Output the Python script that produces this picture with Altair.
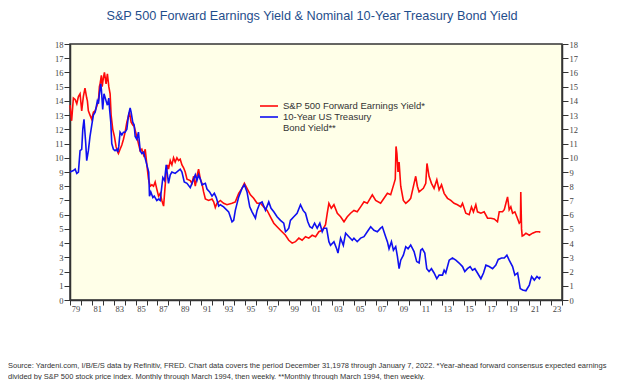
import altair as alt
import pandas as pd

# S&P 500 forward earnings yield (red)
red_year = [1979.00, 1979.15, 1979.31, 1979.47, 1979.62, 1979.77, 1979.92, 1980.07, 1980.22, 1980.37,
            1980.53, 1980.59, 1980.68, 1980.83, 1980.99, 1981.14, 1981.30, 1981.44, 1981.60, 1981.69,
            1981.75, 1981.87, 1981.94, 1982.05, 1982.15, 1982.30, 1982.42, 1982.55, 1982.67, 1982.76,
            1982.91, 1983.06, 1983.21, 1983.37, 1983.43, 1983.58, 1983.74, 1983.89, 1984.04, 1984.20,
            1984.44, 1984.59, 1984.74, 1984.87, 1985.11, 1985.26, 1985.42, 1985.57, 1985.73, 1985.88,
            1986.03, 1986.18, 1986.33, 1986.49, 1986.64, 1986.79, 1986.94, 1987.10, 1987.25, 1987.40,
            1987.56, 1987.65, 1987.80, 1987.92, 1988.01, 1988.17, 1988.32, 1988.47, 1988.62, 1988.78,
            1988.93, 1989.08, 1989.24, 1989.39, 1989.54, 1989.70, 1990.00, 1990.15, 1990.31, 1990.46,
            1990.61, 1990.76, 1990.92, 1991.07, 1991.22, 1991.38, 1991.68, 1991.99, 1992.14, 1992.29,
            1992.44, 1992.75, 1993.05, 1993.36, 1993.82, 1994.12, 1994.43, 1994.73, 1994.95, 1995.19,
            1995.50, 1995.80, 1996.11, 1996.42, 1996.72, 1997.03, 1997.33, 1997.64, 1997.94, 1998.25,
            1998.71, 1999.01, 1999.32, 1999.62, 1999.93, 2000.23, 2000.54, 2000.84, 2001.15, 2001.46,
            2001.76, 2002.07, 2002.37, 2002.53, 2002.68, 2002.90, 2003.14, 2003.45, 2003.75, 2004.06,
            2004.36, 2004.66, 2004.97, 2005.27, 2005.58, 2005.89, 2006.19, 2006.65, 2006.96, 2007.41,
            2007.72, 2008.03, 2008.33, 2008.64, 2008.75, 2008.82, 2008.90, 2009.00, 2009.10, 2009.25,
            2009.49, 2009.71, 2010.01, 2010.16, 2010.47, 2010.62, 2010.77, 2010.93, 2011.32, 2011.54,
            2011.65, 2011.84, 2012.06, 2012.30, 2012.55, 2012.76, 2012.98, 2013.22, 2013.53, 2013.83,
            2014.13, 2014.44, 2014.74, 2014.90, 2015.20, 2015.51, 2015.72, 2015.90, 2016.12, 2016.27,
            2016.58, 2016.88, 2017.19, 2017.49, 2017.80, 2018.10, 2018.26, 2018.56, 2018.72, 2018.87,
            2019.02, 2019.17, 2019.32, 2019.48, 2019.69, 2019.87, 2020.09, 2020.20, 2020.23, 2020.30,
            2020.36, 2020.49, 2020.70, 2021.01, 2021.31, 2021.62, 2021.92, 2022.02]
red_val = [13.7, 12.6, 14.2, 14.1, 13.8, 14.3, 14.5, 13.3, 14.3, 14.9,
           14.2, 14.0, 13.3, 13.0, 12.7, 13.2, 13.3, 13.6, 14.0, 15.0,
           15.2, 15.8, 15.0, 15.6, 16.0, 15.2, 15.9, 15.0, 14.5, 13.0,
           12.0, 11.5, 10.8, 10.4, 10.3, 10.6, 10.9, 11.3, 11.8, 12.5,
           13.2, 12.5, 12.3, 12.2, 11.5, 11.0, 10.5, 10.6, 10.2, 10.6,
           9.5, 8.5, 8.0, 8.1, 8.0, 8.3, 7.8, 7.3, 7.5, 7.0,
           6.6, 7.5, 9.0, 9.5, 9.2, 9.8, 9.5, 10.0, 9.7, 10.0,
           9.8, 9.9, 9.5, 9.3, 9.0, 8.5, 8.4, 8.2, 8.7, 8.0,
           8.7, 9.2, 8.5, 8.2, 7.6, 7.1, 7.0, 7.1, 6.9, 6.5,
           6.8, 7.0, 6.8, 6.7, 6.8, 6.9, 7.5, 7.85, 8.2, 7.85,
           7.4, 7.15, 6.8, 6.8, 6.55, 6.3, 5.85, 5.4, 5.15, 4.9,
           4.55, 4.2, 4.0, 4.1, 4.35, 4.2, 4.45, 4.35, 4.55, 4.45,
           4.8, 4.9, 5.3, 6.1, 6.8, 6.45, 6.7, 6.1, 5.85, 5.5,
           5.85, 6.1, 6.3, 6.2, 6.55, 6.9, 6.8, 7.4, 7.0, 6.8,
           7.15, 7.5, 7.4, 8.2, 8.5, 10.8, 10.3, 9.0, 9.7, 8.0,
           7.0, 6.8, 7.0, 7.15, 8.2, 8.7, 8.0, 7.6, 7.85, 8.2,
           9.6, 8.7, 8.2, 7.85, 8.45, 7.75, 8.1, 7.5, 7.15, 7.0,
           6.8, 6.7, 6.55, 6.8, 6.1, 6.0, 6.55, 6.2, 6.7, 6.2,
           6.1, 6.2, 5.75, 5.75, 5.7, 5.5, 6.2, 6.2, 6.35, 6.8,
           7.25, 6.35, 6.55, 6.1, 6.2, 5.85, 5.4, 5.5, 7.6, 5.0,
           4.5, 4.55, 4.7, 4.55, 4.7, 4.8, 4.8, 4.75]

# 10-year US Treasury bond yield (blue)
blue_year = [1979.00, 1979.31, 1979.47, 1979.62, 1979.77, 1979.92, 1980.07, 1980.17, 1980.28, 1980.44,
             1980.53, 1980.68, 1980.83, 1980.99, 1981.14, 1981.30, 1981.38, 1981.50, 1981.60, 1981.69,
             1981.81, 1981.87, 1981.99, 1982.11, 1982.30, 1982.42, 1982.55, 1982.61, 1982.73, 1982.82,
             1982.97, 1983.12, 1983.28, 1983.37, 1983.46, 1983.58, 1983.74, 1983.89, 1984.04, 1984.20,
             1984.35, 1984.50, 1984.59, 1984.74, 1984.87, 1984.96, 1985.11, 1985.26, 1985.42, 1985.57,
             1985.73, 1986.03, 1986.20, 1986.27, 1986.39, 1986.58, 1986.70, 1986.94, 1987.10, 1987.25,
             1987.40, 1987.49, 1987.65, 1987.80, 1988.01, 1988.17, 1988.32, 1988.62, 1989.08, 1989.24,
             1989.45, 1989.70, 1990.00, 1990.31, 1990.46, 1990.61, 1990.76, 1990.92, 1991.07, 1991.38,
             1991.53, 1991.77, 1991.99, 1992.20, 1992.38, 1992.60, 1992.75, 1993.05, 1993.51, 1993.82,
             1993.97, 1994.12, 1994.43, 1994.73, 1994.95, 1995.19, 1995.44, 1995.65, 1995.96, 1996.11,
             1996.36, 1996.57, 1996.88, 1997.18, 1997.39, 1997.64, 1997.94, 1998.25, 1998.55, 1998.71,
             1998.86, 1999.01, 1999.16, 1999.47, 1999.77, 2000.08, 2000.32, 2000.54, 2000.75, 2000.94,
             2001.15, 2001.37, 2001.61, 2001.85, 2002.07, 2002.22, 2002.47, 2002.68, 2002.83, 2003.14,
             2003.39, 2003.51, 2003.75, 2004.00, 2004.21, 2004.51, 2004.82, 2004.97, 2005.27, 2005.58,
             2005.89, 2006.19, 2006.50, 2006.80, 2007.11, 2007.41, 2007.57, 2007.87, 2008.03, 2008.18,
             2008.40, 2008.58, 2008.79, 2008.95, 2009.10, 2009.25, 2009.49, 2009.71, 2009.92, 2010.16,
             2010.47, 2010.71, 2010.93, 2011.08, 2011.23, 2011.45, 2011.63, 2011.84, 2012.06, 2012.30,
             2012.55, 2012.76, 2013.07, 2013.22, 2013.37, 2013.68, 2013.98, 2014.29, 2014.59, 2014.90,
             2015.11, 2015.35, 2015.60, 2015.81, 2016.03, 2016.27, 2016.58, 2016.82, 2017.04, 2017.34,
             2017.65, 2017.95, 2018.17, 2018.47, 2018.72, 2018.96, 2019.17, 2019.48, 2019.69, 2019.94,
             2020.18, 2020.40, 2020.70, 2021.01, 2021.22, 2021.47, 2021.71, 2021.92, 2022.02]
blue_val = [9.0, 9.1, 9.2, 8.9, 9.0, 10.5, 10.6, 12.0, 12.7, 11.0,
            9.8, 10.5, 11.5, 12.3, 13.0, 13.2, 13.5, 14.0, 13.8, 14.5,
            15.2, 14.8, 13.4, 14.5, 14.0, 13.7, 14.2, 13.5, 12.5, 11.0,
            10.6, 10.5, 10.6, 10.4, 10.8, 11.8, 11.6, 11.8, 11.8, 12.0,
            13.0, 13.5, 13.2, 12.5, 12.3, 11.5, 11.3, 11.8, 10.5, 10.3,
            10.4, 9.5, 9.0, 7.3, 7.6, 7.2, 7.3, 7.0, 7.1, 7.0,
            8.0, 8.6, 8.4, 9.5, 8.2, 8.8, 9.0, 8.9, 9.2, 9.0,
            8.3, 8.2, 7.9, 8.5, 8.8, 8.4, 8.8, 8.5, 8.1, 8.2,
            7.8, 7.6, 7.3, 7.5, 7.2, 6.6, 6.7, 6.55, 6.2, 5.5,
            5.6, 6.3, 7.25, 7.85, 8.1, 7.6, 6.55, 6.2, 5.75, 6.3,
            6.8, 6.9, 6.3, 6.9, 6.45, 6.2, 5.85, 5.6, 5.4, 4.8,
            4.9, 5.05, 5.6, 5.85, 6.1, 6.7, 6.3, 6.1, 5.5, 5.15,
            5.05, 5.4, 5.05, 5.4, 4.8, 5.05, 5.05, 4.1, 3.85, 4.1,
            3.6, 3.3, 4.35, 3.85, 4.7, 4.45, 4.2, 4.35, 4.1, 4.35,
            4.45, 4.8, 5.15, 4.9, 4.8, 5.05, 5.15, 4.45, 4.1, 3.6,
            4.1, 3.5, 3.75, 3.05, 2.2, 2.8, 3.15, 3.75, 3.6, 3.87,
            3.4, 2.7, 2.6, 3.5, 3.6, 3.3, 2.2, 2.0, 2.2, 1.9,
            1.5, 1.75, 1.75, 2.1, 1.9, 2.8, 2.95, 2.8, 2.6, 2.35,
            2.0, 2.2, 2.35, 2.1, 2.2, 1.9, 1.5, 1.9, 2.45, 2.35,
            2.2, 2.45, 2.85, 2.95, 2.95, 3.15, 2.8, 2.35, 1.75, 1.9,
            0.8, 0.7, 0.65, 1.05, 1.65, 1.4, 1.65, 1.5, 1.65]

y_ticks = list(range(0, 19))
x_ticks = list(range(1979, 2025))

title_text = "S&P 500 Forward Earnings Yield & Nominal 10-Year Treasury Bond Yield"
legend_labels = ["S&P 500 Forward Earnings Yield*", "10-Year US Treasury", "Bond Yield**"]
footer_lines = [
    "Source: Yardeni.com, I/B/E/S data by Refinitiv, FRED. Chart data covers the period December 31,1978 through January 7, 2022. *Year-ahead forward consensus expected earnings",
    "divided by S&P 500 stock price index. Monthly through March 1994, then weekly. **Monthly through March 1994, then weekly.",
]

RED = "#FF0A0A"
BLUE = "#1010F0"
AX = "#333333"
SERIF = "Liberation Serif, Times New Roman, serif"

red_df = pd.DataFrame({"year": red_year, "value": red_val})
blue_df = pd.DataFrame({"year": blue_year, "value": blue_val})
one = pd.DataFrame({"k": [0]})

xscale = alt.Scale(domain=[1979, 2024], nice=False, zero=False)
yscale = alt.Scale(domain=[0, 18], nice=False, zero=True)

xaxis = alt.Axis(
    values=x_ticks, title=None, grid=False, tickSize=5, tickColor=AX, domainColor=AX,
    domainWidth=1.5, tickWidth=1,
    labelExpr="(datum.value % 2 == 1 && datum.value < 2024) ? substring(toString(datum.value), 2, 4) : ''",
    labelOffset=5.5, labelPadding=-1, labelFont=SERIF, labelFontSize=8.5,
    labelColor="#444444", labelFlush=False, labelOverlap=False,
)

def yaxis(orient):
    return alt.Axis(
        orient=orient, values=y_ticks, title=None, grid=False, tickSize=6, tickColor=AX,
        domainColor=AX, domainWidth=1.5, labelFont=SERIF, labelFontSize=8.5,
        labelColor="#444444", labelPadding=1, labelOverlap=False, labelFlush=False,
    )

red_line = alt.Chart(red_df).mark_line(color=RED, strokeWidth=1.6).encode(
    x=alt.X("year:Q", scale=xscale, axis=xaxis),
    y=alt.Y("value:Q", scale=yscale, axis=yaxis("left")),
)
blue_line = alt.Chart(blue_df).mark_line(color=BLUE, strokeWidth=1.6).encode(
    x=alt.X("year:Q", scale=xscale, axis=xaxis),
    y=alt.Y("value:Q", scale=yscale, axis=None),
)
right_axis = alt.Chart(blue_df).mark_line(strokeOpacity=0).encode(
    x=alt.X("year:Q", scale=xscale, axis=xaxis),
    y=alt.Y("value:Q", scale=yscale, axis=yaxis("right")),
)

title = alt.Chart(one).mark_text(
    text=title_text, font="Liberation Sans", fontSize=12.7, color="#1F4E8C",
    align="center", baseline="middle",
).encode(x=alt.value(242), y=alt.value(-28))

leg_red = alt.Chart(one).mark_rule(color=RED, strokeWidth=1.6).encode(
    x=alt.value(190), x2=alt.value(208), y=alt.value(62))
leg_blue = alt.Chart(one).mark_rule(color=BLUE, strokeWidth=1.6).encode(
    x=alt.value(190), x2=alt.value(208), y=alt.value(73))
leg_t1 = alt.Chart(one).mark_text(text=legend_labels[0], font="Liberation Sans", fontSize=9.5,
                                  color="#333333", align="left", baseline="middle").encode(
    x=alt.value(213), y=alt.value(62))
leg_t2 = alt.Chart(one).mark_text(text=legend_labels[1], font="Liberation Sans", fontSize=9.5,
                                  color="#333333", align="left", baseline="middle").encode(
    x=alt.value(213), y=alt.value(73))
leg_t3 = alt.Chart(one).mark_text(text=legend_labels[2], font="Liberation Sans", fontSize=9.5,
                                  color="#333333", align="left", baseline="middle").encode(
    x=alt.value(213), y=alt.value(83.5))

foot1 = alt.Chart(one).mark_text(text=footer_lines[0], font="Liberation Sans", fontSize=7.5,
                                 color="#333333", align="left", baseline="middle").encode(
    x=alt.value(-62), y=alt.value(322))
foot2 = alt.Chart(one).mark_text(text=footer_lines[1], font="Liberation Sans", fontSize=7.5,
                                 color="#333333", align="left", baseline="middle").encode(
    x=alt.value(-62), y=alt.value(333))

chart = alt.layer(
    red_line, blue_line, right_axis, title, leg_red, leg_blue, leg_t1, leg_t2, leg_t3, foot1, foot2
).resolve_scale(y="independent").properties(
    width=492, height=256,
    autosize=alt.AutoSizeParams(type="none"),
    padding={"left": 62, "top": 36, "right": 54, "bottom": 80},
    background="white",
).configure_view(
    fill="#FFFFE8", stroke=AX, strokeWidth=1.5,
)

chart.save("out.html", embed_options={"renderer": "svg", "actions": False})
